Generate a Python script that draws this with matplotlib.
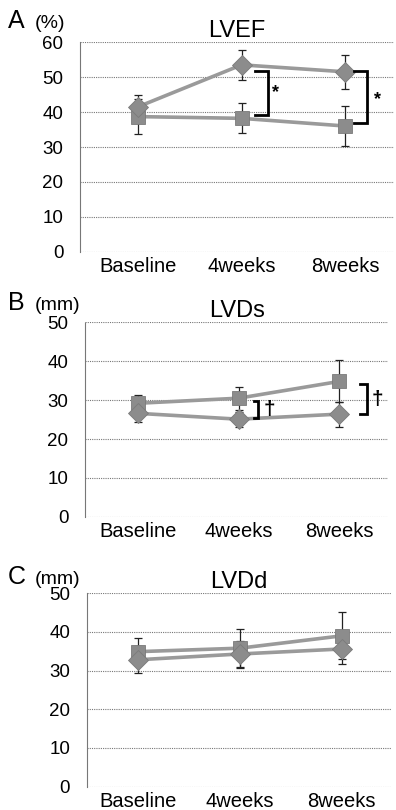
import matplotlib
matplotlib.use("Agg")
import matplotlib.pyplot as plt

plt.rcParams['font.family'] = ['Liberation Sans', 'DejaVu Sans']

categories = ["Baseline", "4weeks", "8weeks"]

# Panel A: LVEF (%)
lvef_diamond = [41.5, 53.5, 51.5]
lvef_diamond_err = [3.5, 4.2, 4.8]
lvef_square = [38.7, 38.2, 36.0]
lvef_square_err = [5.0, 4.3, 5.8]

# Panel B: LVDs (mm)
lvds_diamond = [26.6, 25.1, 26.4]
lvds_diamond_err = [2.1, 1.9, 3.2]
lvds_square = [29.2, 30.5, 34.8]
lvds_square_err = [2.0, 3.0, 5.4]

# Panel C: LVDd (mm)
lvdd_diamond = [32.8, 34.3, 35.6]
lvdd_diamond_err = [3.5, 3.3, 3.9]
lvdd_square = [34.9, 35.8, 39.0]
lvdd_square_err = [3.5, 5.0, 6.1]

panels = [
    dict(letter="A", unit="(%)", title="LVEF", ymax=60,
         d=lvef_diamond, de=lvef_diamond_err, s=lvef_square, se=lvef_square_err,
         rect=[0.202, 0.689, 0.793, 0.259], xlim=(-0.56, 2.47), label_y=0.9654,
         brackets=[(1.256, 1.13, 51.7, 39.1, "*", 1.33, 45.7),
                   (2.21, 2.08, 51.7, 36.9, "*", 2.31, 43.7)]),
    dict(letter="B", unit="(mm)", title="LVDs", ymax=50,
         d=lvds_diamond, de=lvds_diamond_err, s=lvds_square, se=lvds_square_err,
         rect=[0.215, 0.362, 0.765, 0.240], xlim=(-0.53, 2.49), label_y=0.617,
         brackets=[(1.19, 1.15, 29.8, 25.5, "\u2020", 1.31, 27.5),
                   (2.28, 2.21, 34.1, 26.4, "\u2020", 2.38, 30.2)]),
    dict(letter="C", unit="(mm)", title="LVDd", ymax=50,
         d=lvdd_diamond, de=lvdd_diamond_err, s=lvdd_square, se=lvdd_square_err,
         rect=[0.219, 0.029, 0.768, 0.2385], xlim=(-0.50, 2.48), label_y=0.279,
         brackets=[]),
]

fig = plt.figure(figsize=(3.96, 8.10), dpi=100)

line_col = "#9a9a9a"
mark_col = "#8c8c8c"

for p in panels:
    ax = fig.add_axes(p["rect"])
    x = list(range(len(categories)))
    ax.set_xlim(*p["xlim"])
    ax.set_ylim(0, p["ymax"])
    ax.set_yticks(range(0, p["ymax"] + 1, 10))
    ax.set_xticks(x)
    ax.set_xticklabels(categories, fontsize=14.5)
    ax.tick_params(axis="y", labelsize=13.5, length=0, pad=12)
    ax.tick_params(axis="x", length=0, pad=4)
    for side in ["top", "right", "bottom"]:
        ax.spines[side].set_visible(False)
    ax.spines["left"].set_linestyle((0, (1, 1)))
    ax.spines["left"].set_color("#777777")
    ax.spines["left"].set_linewidth(0.8)
    ax.yaxis.grid(True, linestyle=(0, (1, 1)), color="#777777", linewidth=0.8)
    ax.set_axisbelow(True)

    for vals, errs, mk in [(p["s"], p["se"], "s"), (p["d"], p["de"], "D")]:
        ax.errorbar(x, vals, yerr=errs, fmt="none", ecolor="#222222",
                    elinewidth=0.9, capsize=3, capthick=0.9, zorder=2)
        ax.plot(x, vals, color=line_col, linewidth=2.6, zorder=3)
        ax.plot(x, vals, linestyle="none", marker=mk,
                markersize=10.5 if mk == "s" else 10,
                markerfacecolor=mark_col, markeredgecolor="#7a7a7a",
                markeredgewidth=0.6, zorder=4)

    for bx, tx, ytop, ybot, sym, sx, sy in p["brackets"]:
        ax.plot([tx, bx, bx, tx], [ytop, ytop, ybot, ybot], color="black",
                linewidth=2.0, solid_joinstyle="miter", zorder=5)
        ax.text(sx, sy, sym, fontsize=15 if sym != "*" else 13,
                fontweight="bold", ha="center", va="center", zorder=5)

    ax.set_title(p["title"], fontsize=17, pad=3)
    fig.text(0.020, p["label_y"], p["letter"], fontsize=18, ha="left", va="baseline")
    fig.text(0.088, p["label_y"], p["unit"], fontsize=14, ha="left", va="baseline")

fig.savefig("out.png", dpi=100)
